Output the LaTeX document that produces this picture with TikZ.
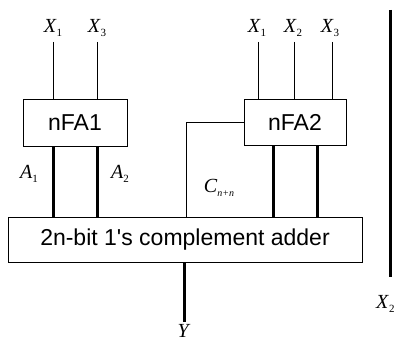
\documentclass[tikz,border=0pt]{standalone}
\usepackage{fontspec}
\setmainfont{Liberation Serif}
\newfontfamily\boxfont{Liberation Sans}
\newcommand{\lbl}[2]{\fontsize{20}{20}\selectfont\textit{#1}\raisebox{-4pt}{\fontsize{11}{11}\selectfont #2}}
\begin{document}
\begin{tikzpicture}[x=1pt,y=-1pt,
  blk/.style={draw, line width=0.8pt, inner sep=0pt, font=\boxfont\fontsize{23}{23}\selectfont},
  wire/.style={line width=0.7pt},
  bus/.style={line width=3pt},
  lab/.style={inner sep=0pt}]
\useasboundingbox (0,0) rectangle (401,344);
% blocks
\node[blk, minimum width=104pt, minimum height=47pt] (nfa1) at (75,122.5) {nFA1};
\node[blk, minimum width=102pt, minimum height=46pt] (nfa2) at (295,122) {nFA2};
\node[blk, minimum width=354pt, minimum height=45pt] (add) at (185,239.5) {2n-bit 1's complement adder};
% input coordinates
\coordinate (a) at (53,42);
\coordinate (b) at (97,42);
\coordinate (c) at (258,42);
\coordinate (d) at (294,42);
\coordinate (e) at (332,42);
\coordinate (p) at (273,0);
\coordinate (q) at (317,0);
\coordinate (cx) at (186,0);
\coordinate (yout) at (184,322);
\coordinate (rt) at (390,10);
\coordinate (rb) at (390,277);
% input labels
\node[lab] (la) at (53,28) {\lbl{X}{1}};
\node[lab] (lb) at (97,28) {\lbl{X}{3}};
\node[lab] (lc) at (257,28) {\lbl{X}{1}};
\node[lab] (ld) at (293,28) {\lbl{X}{2}};
\node[lab] (le) at (330,28) {\lbl{X}{3}};
% input wires
\draw[wire] (a) -- (a |- nfa1.north);
\draw[wire] (b) -- (b |- nfa1.north);
\draw[wire] (c) -- (c |- nfa2.north);
\draw[wire] (d) -- (d |- nfa2.north);
\draw[wire] (e) -- (e |- nfa2.north);
% buses
\draw[bus] (a |- nfa1.south) -- (a |- add.north);
\draw[bus] (b |- nfa1.south) -- (b |- add.north);
\draw[bus] (p |- nfa2.south) -- (p |- add.north);
\draw[bus] (q |- nfa2.south) -- (q |- add.north);
% carry
\draw[wire] (nfa2.west) -| (add.north -| cx);
% output
\draw[bus] (yout |- add.south) -- (yout);
\node[lab, anchor=south] (ly) at (184,338) {\fontsize{20}{20}\selectfont\textit{Y}};
% right bus
\draw[bus] (rt) -- (rb);
\node[lab, anchor=west] (lx2) at (376,304) {\lbl{X}{2}};
% bus labels
\node[lab] (la1) at (29,174) {\lbl{A}{1}};
\node[lab] (la2) at (120,174) {\lbl{A}{2}};
\node[lab] (lcn) at (219,188) {\fontsize{20}{20}\selectfont\textit{C}\raisebox{-4pt}{\fontsize{10}{10}\selectfont\textit{n+n}}};
\end{tikzpicture}
\end{document}
